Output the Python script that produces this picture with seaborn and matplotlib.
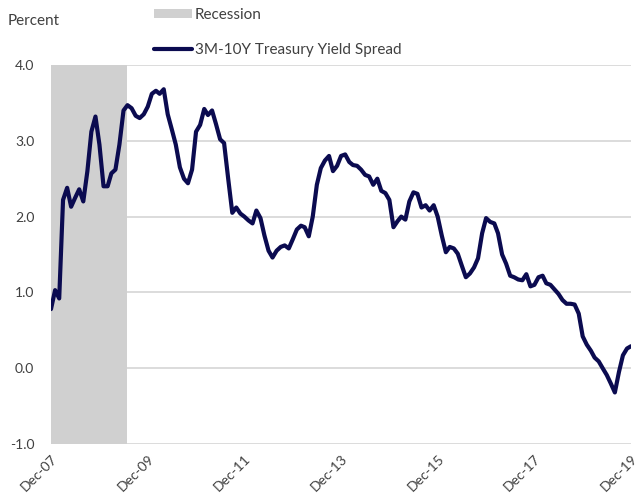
import matplotlib
matplotlib.use("Agg")
import matplotlib.pyplot as plt
import matplotlib.dates as mdates
from matplotlib.patches import Patch
from matplotlib.lines import Line2D
import seaborn as sns
import pandas as pd
import numpy as np

# ---- data (monthly, Dec-2007 .. Dec-2019) ----
start_month = "2007-12-01"
end_month = "2019-12-01"
spread = [
    0.78, 1.03, 0.92, 2.22, 2.38, 2.13, 2.25, 2.36, 2.20, 2.60,
    3.12, 3.32, 2.95, 2.40, 2.40, 2.57, 2.62, 2.95, 3.40, 3.47,
    3.43, 3.33, 3.30, 3.35, 3.45, 3.62, 3.66, 3.62, 3.68, 3.35,
    3.15, 2.95, 2.65, 2.50, 2.44, 2.62, 3.12, 3.21, 3.42, 3.34,
    3.40, 3.22, 3.02, 2.97, 2.50, 2.05, 2.12, 2.04, 2.00, 1.95,
    1.91, 2.08, 1.98, 1.75, 1.55, 1.46, 1.55, 1.60, 1.62, 1.58,
    1.70, 1.83, 1.88, 1.86, 1.74, 2.00, 2.42, 2.64, 2.74, 2.80,
    2.60, 2.67, 2.80, 2.82, 2.72, 2.68, 2.67, 2.62, 2.55, 2.53,
    2.42, 2.50, 2.34, 2.31, 2.22, 1.86, 1.94, 2.00, 1.96, 2.20,
    2.32, 2.30, 2.12, 2.15, 2.08, 2.15, 2.00, 1.75, 1.53, 1.60,
    1.58, 1.51, 1.35, 1.20, 1.25, 1.33, 1.45, 1.78, 1.98, 1.93,
    1.91, 1.78, 1.50, 1.38, 1.22, 1.20, 1.17, 1.16, 1.24, 1.08,
    1.10, 1.20, 1.22, 1.12, 1.10, 1.04, 0.98, 0.90, 0.85, 0.85,
    0.84, 0.72, 0.42, 0.31, 0.23, 0.14, 0.09, 0.00, -0.09, -0.20,
    -0.32, -0.05, 0.17, 0.26, 0.29,
]
recession_start = "2007-12-01"
recession_end = "2009-07-01"
y_ticks = [-1.0, 0.0, 1.0, 2.0, 3.0, 4.0]
x_tick_dates = ["2007-12-01", "2009-12-01", "2011-12-01", "2013-12-01",
                "2015-12-01", "2017-12-01", "2019-12-01"]
x_tick_labels = ["Dec-07", "Dec-09", "Dec-11", "Dec-13", "Dec-15", "Dec-17", "Dec-19"]

dates = pd.date_range(start_month, end_month, freq="MS")
df = pd.DataFrame({"date": dates, "spread": spread})

# ---- style ----
sns.set_theme(style="white")
plt.rcParams["font.family"] = ["Lato", "DejaVu Sans"]
text_color = "#404040"
line_color = "#0b0b50"
grid_color = "#d9d9d9"
shade_color = "#d0d0d0"

fig = plt.figure(figsize=(6.4, 4.99), dpi=100)
ax = fig.add_axes([51 / 640, 1 - 444 / 499, 580 / 640, 379 / 499])

ax.axvspan(pd.Timestamp(recession_start), pd.Timestamp(recession_end),
           color=shade_color, lw=0, zorder=1)
for yv in y_ticks:
    ax.axhline(yv, color=grid_color, lw=1.3, zorder=0.5)

sns.lineplot(data=df, x="date", y="spread", ax=ax, color=line_color,
             lw=3.0, zorder=3, legend=False)

ax.set_xlim(pd.Timestamp(start_month), pd.Timestamp(end_month))
ax.set_ylim(min(y_ticks), max(y_ticks))
ax.set_yticks(y_ticks)
ax.set_yticklabels([f"{v:.1f}" for v in y_ticks], color=text_color, fontsize=10)
ax.set_xticks([pd.Timestamp(d) for d in x_tick_dates])
ax.set_xticklabels(x_tick_labels, rotation=45, ha="right",
                   rotation_mode="anchor", color=text_color, fontsize=10)
ax.tick_params(axis="both", length=0)
ax.tick_params(axis="y", pad=12)
ax.tick_params(axis="x", pad=6)
ax.set_xlabel("")
ax.set_ylabel("")
for s in ["top", "right", "left", "bottom"]:
    ax.spines[s].set_visible(False)

fig.text(8 / 640, 1 - 21 / 499, "Percent", color=text_color, fontsize=11,
         va="center", ha="left")

handles = [Patch(facecolor=shade_color, edgecolor="none", label="Recession"),
           Line2D([0], [0], color=line_color, lw=3.0,
                  label="3M-10Y Treasury Yield Spread")]
leg = fig.legend(handles=handles, loc="upper left",
                 bbox_to_anchor=(140 / 640, 1.0 + 6 / 499), frameon=False,
                 fontsize=11, labelspacing=1.4, handlelength=2.5,
                 handleheight=0.6, handletextpad=0.2, labelcolor=text_color)

fig.savefig("out.png", dpi=100)
